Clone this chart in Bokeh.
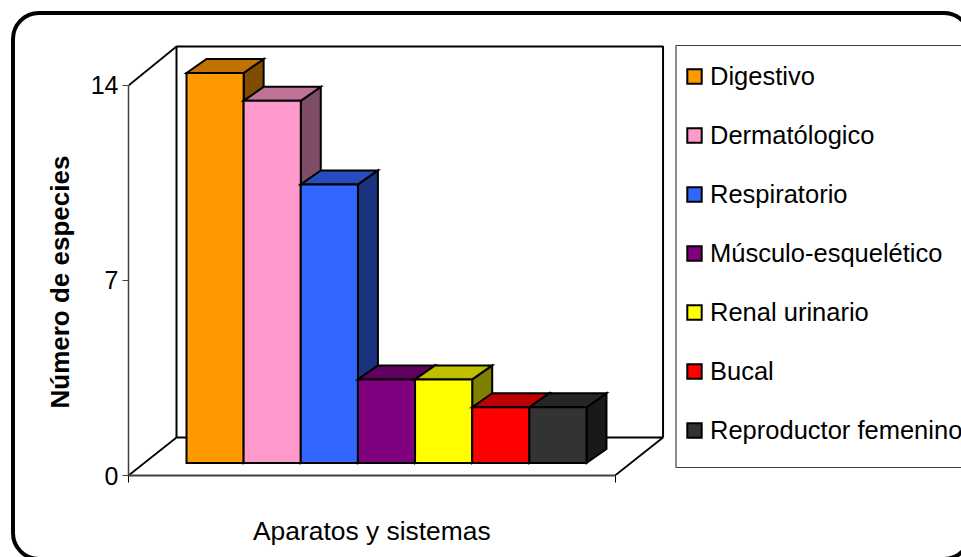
from bokeh.plotting import figure
from bokeh.models import Range1d, FixedTicker, BoxAnnotation, Legend, LegendItem, InlineStyleSheet, Title
from bokeh.embed import file_html
from bokeh.resources import INLINE

categories = ["Digestivo", "Dermatólogico", "Respiratorio", "Músculo-esquelético",
              "Renal urinario", "Bucal", "Reproductor femenino"]
values = [14, 13, 10, 3, 3, 2, 2]
front_colors = ["#FF9900", "#FF99CC", "#3366FF", "#800080", "#FFFF00", "#FF0000", "#333333"]
top_colors = ["#BF7300", "#BF7399", "#264CBF", "#600060", "#BFBF00", "#BF0000", "#262626"]
side_colors = ["#7F4C00", "#7F4C66", "#19337F", "#400040", "#7F7F00", "#7F0000", "#191919"]
y_ticks = [0, 7, 14]
x_title = "Aparatos y sistemas"
y_title = "Número de especies"

W, H = 961, 557
LEFT, BOTTOM = 128, 82
PX_X, PX_Y = 57.14, 27.86      # pixels per data unit
X0 = -58.0 / PX_X              # axis start, left of first bar
X1 = 7.5
FRAME_W, FRAME_H = W - LEFT, H - BOTTOM
FONT = "Liberation Sans"

# outer rounded border of the chart area
border = InlineStyleSheet(css="""
:host { overflow: hidden; }
:host::before {
  content: ""; position: absolute; box-sizing: border-box;
  left: 11px; top: 11px; width: 961px; height: 550px;
  border: 4px solid black; border-radius: 28px;
  z-index: 10; pointer-events: none;
}
""")

p = figure(width=W, height=H, output_backend="svg", toolbar_location=None,
           x_range=Range1d(X0, X0 + FRAME_W / PX_X), y_range=Range1d(0, FRAME_H / PX_Y),
           min_border_left=LEFT, min_border_bottom=BOTTOM, min_border_top=0, min_border_right=0,
           tools="", stylesheets=[border])
p.outline_line_color = None
p.grid.visible = False
p.background_fill_color = None
p.border_fill_color = None

dx = lambda px: px / PX_X
dy = lambda px: px / PX_Y

# legend frame
p.add_layout(BoxAnnotation(left=675.5, right=985, top=45, bottom=467,
                           left_units="canvas", right_units="canvas",
                           top_units="canvas", bottom_units="canvas",
                           fill_alpha=0, line_alpha=1, level="overlay",
                           line_color="#404040", line_width=1.2))

# walls
WALL_X, WALL_Y = dx(48), dy(38)
top = y_ticks[-1]
p.line([X0, X0 + WALL_X, X1 + WALL_X, X1], [0, WALL_Y, WALL_Y, 0], line_color="black", line_width=1.8)
p.line([X0 + WALL_X, X0 + WALL_X, X1 + WALL_X, X1 + WALL_X],
       [WALL_Y, top + dy(39), top + dy(39), WALL_Y], line_color="black", line_width=2)
p.line([X0, X0 + WALL_X], [top, top + dy(39)], line_color="black", line_width=1.8)

# bars
BASE = dy(12.5)
DX, DY = dx(20), dy(14)
items = []
for i, (c, v) in enumerate(zip(categories, values)):
    ytop = BASE + v
    kw = dict(line_color="black", line_width=2, line_join="miter")
    p.patch([i + 1, i + 1 + DX, i + 1 + DX, i + 1], [BASE, BASE + DY, ytop + DY, ytop], fill_color=side_colors[i], **kw)
    p.patch([i, i + DX, i + 1 + DX, i + 1], [ytop, ytop + DY, ytop + DY, ytop], fill_color=top_colors[i], **kw)
    r = p.quad(left=[i], right=[i + 1], bottom=[BASE], top=[ytop], fill_color=front_colors[i], **kw)
    items.append(LegendItem(label=c, renderers=[r]))

legend = Legend(items=items, location=(557, 28), orientation="vertical",
                glyph_width=18, glyph_height=18, label_standoff=7, spacing=25,
                label_text_font=FONT, label_text_font_size="25.5px", label_text_color="black",
                label_height=34, padding=0, margin=0, border_line_color=None,
                background_fill_alpha=0, click_policy="none")
p.add_layout(legend, "center")

# axes
mid = (X0 + X1) / 2
xa = p.xaxis[0]
xa.bounds = (X0, X1)
xa.ticker = FixedTicker(ticks=[mid], minor_ticks=[X0, X1])
xa.major_label_overrides = {mid: x_title}
xa.major_label_text_font = FONT
xa.major_label_text_font_size = "26.4px"
xa.major_label_text_color = "black"
xa.major_label_standoff = 33
xa.major_tick_line_color = None
xa.major_tick_in = 0
xa.major_tick_out = 0
xa.minor_tick_in = 0
xa.minor_tick_out = 7
xa.minor_tick_line_color = "black"
xa.axis_line_color = "#404040"
xa.axis_line_width = 2

ya = p.yaxis[0]
ya.bounds = (0, top)
ya.ticker = FixedTicker(ticks=y_ticks)
ya.major_tick_in = 0
ya.major_tick_out = 6
ya.minor_tick_line_color = None
ya.axis_line_color = "#404040"
ya.axis_line_width = 1.5
ya.major_tick_line_color = "#404040"
ya.major_label_text_font = FONT
ya.major_label_text_font_size = "25px"
ya.major_label_text_color = "black"
ya.major_label_standoff = 4

p.add_layout(Title(text=y_title, align="left", offset=67, standoff=26,
                   text_font=FONT, text_font_size="26px", text_font_style="bold",
                   text_color="black"), "left")

open("out.html", "w").write(file_html(p, INLINE))
